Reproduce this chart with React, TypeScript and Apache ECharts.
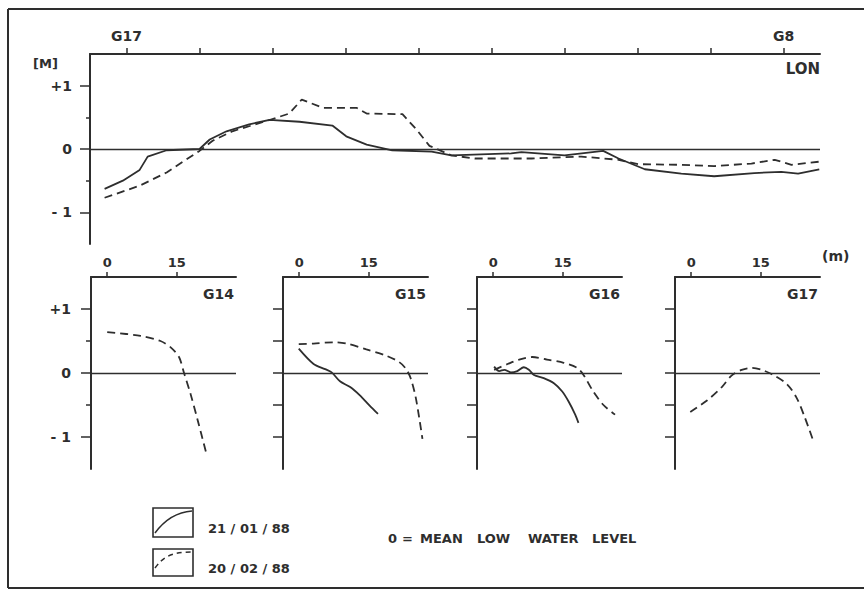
import React, { useEffect, useRef } from "react";
import * as echarts from "echarts";

// ---- Data ----
// Top panel: longshore profile, x in station units (G17 = 0 ... G8 = 9), y in metres
const lonTicks = [0, 1, 2, 3, 4, 5, 6, 7, 8, 9];
const lonLabels: Record<number, string> = { 0: "G17", 9: "G8" };
const lonSolid: [number, number][] = [
  [-0.3, -0.63], [-0.05, -0.5], [0.18, -0.33], [0.29, -0.12], [0.55, -0.02], [1.0, 0],
  [1.14, 0.15], [1.37, 0.28], [1.68, 0.39], [1.96, 0.46], [2.37, 0.43], [2.82, 0.37],
  [3.01, 0.2], [3.29, 0.07], [3.64, -0.02], [4.18, -0.04], [4.45, -0.1], [5.27, -0.07],
  [5.41, -0.05], [6.0, -0.1], [6.53, -0.03], [6.74, -0.15], [7.1, -0.32], [7.6, -0.39],
  [8.05, -0.43], [8.6, -0.38], [8.97, -0.36], [9.2, -0.39], [9.49, -0.32],
];
const lonDashed: [number, number][] = [
  [-0.3, -0.77], [0.18, -0.58], [0.55, -0.37], [1.0, -0.03], [1.18, 0.13], [1.45, 0.28],
  [1.91, 0.44], [2.23, 0.56], [2.4, 0.78], [2.69, 0.65], [3.15, 0.65], [3.29, 0.56],
  [3.78, 0.55], [3.97, 0.31], [4.15, 0.05], [4.45, -0.1], [4.77, -0.15], [5.55, -0.15],
  [6.23, -0.12], [6.74, -0.17], [7.01, -0.24], [7.6, -0.25], [8.05, -0.27], [8.56, -0.23],
  [8.88, -0.17], [9.11, -0.25], [9.49, -0.2],
];

// Bottom panels: cross-shore profiles, x in metres, y in metres
const panelNames = ["G14", "G15", "G16", "G17"];
const crossTicks = [0, 15];
const g14Solid: [number, number][] = [];
const g14Dashed: [number, number][] = [
  [0, 0.64], [7.2, 0.58], [11.5, 0.5], [13.7, 0.4], [15.5, 0.25], [16.5, 0.02],
  [18, -0.33], [19.5, -0.73], [21.3, -1.23],
];
const g15Solid: [number, number][] = [
  [-0.1, 0.38], [3.1, 0.14], [5.6, 0.06], [7, 0.01], [8.8, -0.13], [11, -0.22],
  [13.1, -0.35], [15.2, -0.51], [17, -0.64],
];
const g15Dashed: [number, number][] = [
  [-0.1, 0.45], [3.1, 0.46], [7.4, 0.48], [10.2, 0.46], [14.5, 0.37], [18.8, 0.27],
  [21.6, 0.17], [23.1, 0.06], [24.1, -0.09], [25.2, -0.4], [26.6, -1.03],
];
const g16Solid: [number, number][] = [
  [0.2, 0.1], [1.3, 0.03], [2.4, 0.05], [3.8, 0.01], [5.2, 0.03], [6.6, 0.09], [7.7, 0.05],
  [8.8, -0.03], [10.9, -0.08], [13.1, -0.16], [14.9, -0.29], [16.3, -0.45], [17.7, -0.65],
  [18.4, -0.78],
];
const g16Dashed: [number, number][] = [
  [0.2, 0.05], [3.1, 0.14], [5.6, 0.21], [8.4, 0.25], [11.6, 0.21], [15.2, 0.16],
  [18.1, 0.08], [19.5, -0.03], [21.6, -0.29], [23.8, -0.5], [26.3, -0.65],
];
const g17Solid: [number, number][] = [];
const g17Dashed: [number, number][] = [
  [-0.2, -0.61], [3.4, -0.43], [6.6, -0.22], [8.7, -0.04], [10.9, 0.05], [13, 0.08],
  [15.2, 0.05], [17.7, -0.03], [20.6, -0.17], [22.7, -0.38], [24.5, -0.69], [26.3, -1.05],
];
const panelSolid = [g14Solid, g15Solid, g16Solid, g17Solid];
const panelDashed = [g14Dashed, g15Dashed, g16Dashed, g17Dashed];

const yMajor = [-1, 0, 1];
const yMinor = [-0.5, 0.5];
const legendLabels = ["21 / 01 / 88", "20 / 02 / 88"];
const noteWords = ["0", "=", "MEAN", "LOW", "WATER", "LEVEL"];

// ---- Styling ----
const INK = "#2e2e2e";
const FONT = "DejaVu Sans";

const yFmt = (v: number) => (v === 1 ? "+1" : v === -1 ? "- 1" : "0");

export default function App() {
  const ref = useRef<HTMLDivElement>(null);

  useEffect(() => {
    document.body.style.margin = "0";
    if (!ref.current) return;
    const chart = echarts.init(ref.current, null, { renderer: "svg" });

    const panelLefts = [91, 283, 477, 675];
    const pTop = 277;
    const pW = 145;
    const pH = 192;

    const grids: any[] = [{ left: 90, top: 54, width: 730, height: 190 }];
    panelLefts.forEach((l) => grids.push({ left: l, top: pTop, width: pW, height: pH }));

    const axisLine = { show: true, onZero: false, lineStyle: { color: INK, width: 2 } };
    const labelStyle = { color: INK, fontFamily: FONT, fontWeight: "bold" as const, fontSize: 14 };

    const xAxes: any[] = [
      {
        gridIndex: 0, type: "value", position: "top", min: -0.5, max: 9.5,
        axisLine, splitLine: { show: false },
        axisTick: { show: true, customValues: lonTicks, length: 6, lineStyle: { color: INK, width: 1.5 } },
        axisLabel: {
          show: true, customValues: [0, 9], margin: 11, ...labelStyle,
          formatter: (v: number) => lonLabels[v] || "",
        },
      },
    ];
    const yAxes: any[] = [
      {
        gridIndex: 0, type: "value", position: "left", min: -1.5, max: 1.5, axisLine, splitLine: { show: false },
        axisTick: { show: true, customValues: yMajor, length: 10, lineStyle: { color: INK, width: 1.5 } },
        axisLabel: { show: true, customValues: yMajor, margin: 18, ...labelStyle, formatter: yFmt },
      },
      {
        gridIndex: 0, type: "value", min: -1.5, max: 1.5, position: "left", offset: 0,
        axisLine: { show: false, onZero: false }, splitLine: { show: false },
        axisTick: { show: true, customValues: yMinor, length: 4, lineStyle: { color: INK, width: 1.5 } },
        axisLabel: { show: false },
      },
    ];

    const series: any[] = [
      {
        type: "line", xAxisIndex: 0, yAxisIndex: 0, data: lonSolid, showSymbol: false,
        lineStyle: { color: INK, width: 1.8 },
        markLine: {
          silent: true, symbol: "none", label: { show: false },
          lineStyle: { color: INK, width: 1.3, type: "solid" }, data: [{ yAxis: 0 }],
        },
      },
      {
        type: "line", xAxisIndex: 0, yAxisIndex: 0, data: lonDashed, showSymbol: false,
        lineStyle: { color: INK, width: 1.8, type: [8, 5] },
      },
    ];

    panelLefts.forEach((_, i) => {
      const g = i + 1;
      xAxes.push({
        gridIndex: g, type: "value", position: "top", min: -3.5, max: 27.8,
        axisLine, splitLine: { show: false },
        axisTick: { show: true, customValues: crossTicks, length: 5, lineStyle: { color: INK, width: 1.5 } },
        axisLabel: { show: true, customValues: crossTicks, margin: 8, ...labelStyle, fontSize: 13 },
      });
      const yIdx = yAxes.length;
      if (i === 0) {
        yAxes.push({
          gridIndex: g, type: "value", position: "left", min: -1.5, max: 1.5, axisLine, splitLine: { show: false },
          axisTick: { show: true, customValues: yMajor, length: 10, lineStyle: { color: INK, width: 1.5 } },
          axisLabel: { show: true, customValues: yMajor, margin: 20, ...labelStyle, formatter: yFmt },
        });
        yAxes.push({
          gridIndex: g, type: "value", position: "left", offset: 0, min: -1.5, max: 1.5,
          axisLine: { show: false, onZero: false }, splitLine: { show: false },
          axisTick: { show: true, customValues: yMinor, length: 5, lineStyle: { color: INK, width: 1.5 } },
          axisLabel: { show: false },
        });
      } else {
        yAxes.push({
          gridIndex: g, type: "value", position: "left", min: -1.5, max: 1.5, axisLine, splitLine: { show: false },
          axisTick: {
            show: true, customValues: [-1, -0.5, 0, 0.5, 1], length: 10,
            lineStyle: { color: INK, width: 1.5 },
          },
          axisLabel: { show: false },
        });
      }
      series.push({
        type: "line", xAxisIndex: g, yAxisIndex: yIdx, data: panelDashed[i], showSymbol: false,
        smooth: 0.3, lineStyle: { color: INK, width: 1.8, type: [8, 5] },
        markLine: {
          silent: true, symbol: "none", label: { show: false },
          lineStyle: { color: INK, width: 1.3, type: "solid" }, data: [{ yAxis: 0 }],
        },
      });
      if (panelSolid[i].length) {
        series.push({
          type: "line", xAxisIndex: g, yAxisIndex: yIdx, data: panelSolid[i], showSymbol: false,
          smooth: 0.3, lineStyle: { color: INK, width: 1.8 },
        });
      }
    });

    const txt = (x: number, y: number, text: string, extra: any = {}) => ({
      type: "text", x, y,
      style: {
        text, fill: INK, font: `bold ${extra.size || 14}px "${FONT}"`,
        textAlign: extra.align || "left", textVerticalAlign: "middle",
      },
    });

    const panelRights = panelLefts.map((l) => l + pW - 2);
    const notePos = [388, 402, 420, 477, 528, 592];

    const graphic: any[] = [
      // frame
      { type: "line", shape: { x1: 8, y1: 9, x2: 864, y2: 9 }, style: { stroke: INK, lineWidth: 2 } },
      { type: "line", shape: { x1: 8, y1: 9, x2: 8, y2: 588 }, style: { stroke: INK, lineWidth: 2 } },
      { type: "line", shape: { x1: 8, y1: 588, x2: 864, y2: 588 }, style: { stroke: INK, lineWidth: 2 } },
      txt(33, 63, "[M]", { size: 13 }),
      txt(820, 69, "LON", { size: 15, align: "right" }),
      txt(822, 256, "(m)", { size: 14 }),
      ...panelNames.map((n, i) => txt(panelRights[i], 294, n, { align: "right" })),
      // legend
      { type: "rect", shape: { x: 153, y: 508, width: 40, height: 29 }, style: { fill: "none", stroke: INK, lineWidth: 1.6 } },
      {
        type: "bezierCurve",
        shape: { x1: 155, y1: 533, cpx1: 166, cpy1: 518, cpx2: 178, cpy2: 512, x2: 192, y2: 511 },
        style: { fill: "none", stroke: INK, lineWidth: 1.5 },
      },
      { type: "rect", shape: { x: 153, y: 549, width: 40, height: 27 }, style: { fill: "none", stroke: INK, lineWidth: 1.6 } },
      {
        type: "bezierCurve",
        shape: { x1: 155, y1: 568, cpx1: 163, cpy1: 557, cpx2: 171, cpy2: 552, x2: 192, y2: 552 },
        style: { fill: "none", stroke: INK, lineWidth: 1.5, lineDash: [5, 4] },
      },
      txt(208, 528, legendLabels[0], { size: 13 }),
      txt(208, 568, legendLabels[1], { size: 13 }),
      ...noteWords.map((w, i) => txt(notePos[i], 538, w, { size: 13 })),
    ];

    chart.setOption({
      animation: false,
      backgroundColor: "#ffffff",
      grid: grids,
      xAxis: xAxes,
      yAxis: yAxes,
      series,
      graphic,
    });

    return () => chart.dispose();
  }, []);

  return <div ref={ref} style={{ width: 864, height: 590 }} />;
}
